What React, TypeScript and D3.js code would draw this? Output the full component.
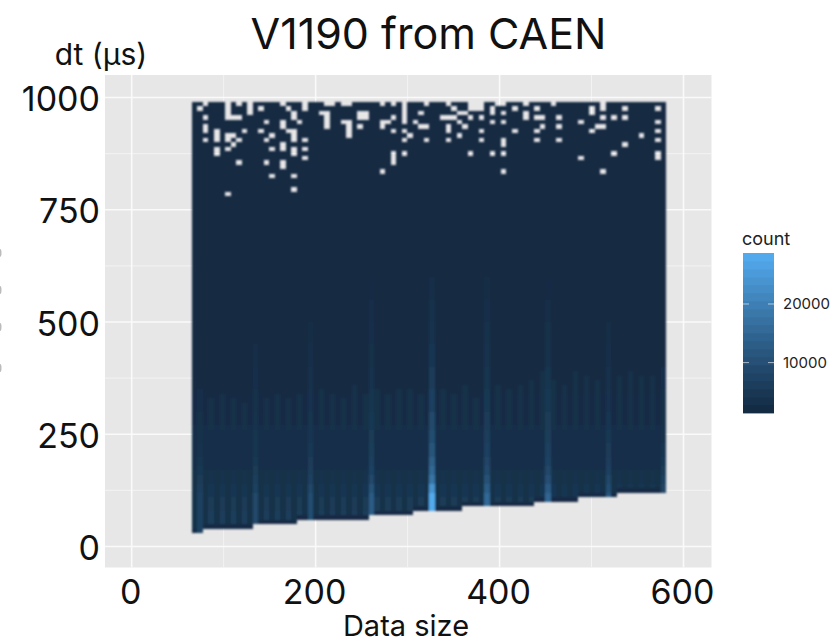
import React from 'react';
import * as d3 from 'd3';

const xTicks = [0, 200, 400, 600];
const xMinorTicks = [100, 300, 500];
const yTicks = [0, 250, 500, 750, 1000];
const yMinorTicks = [125, 375, 625, 875];
const legendTicks = [10000, 20000];

// heat map bins: data size bins are 6 wide, dt bins are 10 wide
const columnCount = 86;
const binStart = 65.5;
const binWidth = 6;
const rowHeight = 10;
const topRow = 980;

// lowest filled dt per run of columns
const floorRunStart = [0, 2, 11, 19, 32, 40, 49, 62, 70, 77];
const floorRunDt = [30, 40, 50, 60, 70, 80, 90, 100, 110, 120];

// bright columns, count by dt band
const spikeBandDt = [0, 120, 140, 160, 180, 200, 230, 260, 300, 350, 400, 450, 500, 550, 600];
const spikeColumns: Record<number, number[]> = {
  1: [6500, 5500, 4800, 4200, 3600, 3100, 2700, 2500, 2300, 1400, 1400, 1400, 1400, 1400, 1400],
  11: [8000, 6500, 5500, 4800, 4200, 3800, 3500, 3300, 2900, 2400, 2000, 1400, 1400, 1400, 1400],
  21: [9000, 7500, 6300, 5400, 4800, 4300, 3900, 3600, 3200, 2700, 2200, 1800, 1400, 1400, 1400],
  32: [12000, 10000, 8000, 6800, 6000, 5300, 4800, 4300, 3700, 3100, 2600, 2300, 1900, 1500, 1400],
  43: [27500, 23000, 17000, 14500, 12500, 10500, 9000, 8000, 6500, 5000, 4000, 3300, 2700, 2100, 1400],
  53: [14500, 12000, 9800, 8300, 7200, 6300, 5500, 4900, 4200, 3500, 3100, 2700, 2300, 1800, 1400],
  64: [14000, 11500, 9300, 7800, 6800, 5900, 5300, 4800, 4100, 3400, 2900, 2500, 2100, 1600, 1400],
  75: [11000, 9000, 7500, 6400, 5500, 4800, 4200, 3800, 3300, 2800, 2300, 1900, 1400, 1400, 1400],
  85: [8500, 7000, 6000, 5000, 4200, 3500, 2900, 2600, 2500, 2400, 1400, 1400, 1400, 1400, 1400],
};

// odd columns are stripes, listed from column 1 up; where their faint upper part ends
const stripeTopDt = [
  350, 330, 340, 330, 320, 330, 330, 340, 330, 340, 350, 350, 340, 330, 360, 340, 350, 340, 350, 350, 340, 350,
  350, 340, 360, 330, 360, 360, 350, 360, 370, 390, 370, 360, 390, 380, 370, 390, 380, 390, 380, 380, 380,
];
const stripeLowDt = [0, 80, 110, 140, 170];
const stripeLowCounts = [5500, 4800, 4000, 3300, 2700];
const stripeMidCount = 2500;

const gapBandDt = [0, 170, 270, 340];
const gapBandCounts = [2450, 2300, 1700, 1400];
const floorRowCount = 1500;

// empty bins as [column, rows down from the top row]
const emptyBins: [number, number[]][] = [
  [1, [1]], [2, [0, 3, 5, 6, 8]], [4, [6, 7, 8, 10, 11]], [6, [0, 1, 2, 3, 7, 8, 10, 20]], [7, [3, 7, 9]],
  [8, [0, 3, 8, 13]], [9, [6]], [10, [0, 1, 2]], [12, [1, 6]], [13, [4, 8, 13]], [14, [7, 10, 16]],
  [16, [0, 4, 5, 9, 10, 13, 14]], [17, [1, 6]], [18, [2, 3, 6, 7, 8, 10, 11, 16, 19]], [19, [4]],
  [20, [0, 1, 8, 10, 12]], [23, [2]], [24, [0, 2, 3, 4, 5]], [25, [0]], [27, [0, 4]], [28, [0, 4, 5, 6, 7]],
  [30, [2, 3, 5]], [31, [2, 3]], [34, [0, 4, 5, 15]], [35, [4]], [36, [0, 3, 6, 11, 12, 13]],
  [38, [0, 1, 2, 3, 4, 6, 8, 11]], [39, [7]], [40, [4]], [41, [2, 5]], [42, [0, 5, 8]],
  [45, [3]], [46, [0, 3, 5, 6, 8]], [47, [1, 3]], [48, [2, 4, 7]], [49, [2, 5]], [50, [0, 1, 3, 11]],
  [51, [0, 1]], [52, [0, 1, 3, 6, 8]], [54, [1, 2, 4, 11]], [55, [0]], [56, [0, 2, 4, 8, 9, 11, 15]],
  [58, [1, 6]], [60, [0, 2, 3]], [62, [1, 3, 6, 8]], [63, [3, 5]], [65, [0]], [66, [3, 5, 8]],
  [70, [4, 12]], [72, [1, 2, 6]], [73, [5]], [74, [0, 1, 3, 5, 15]], [76, [3, 11]], [78, [1, 3, 9]],
  [81, [7]], [84, [1, 4, 6, 8, 11, 12]],
];

const bandValue = (bands: number[], values: number[], dt: number) =>
  values[d3.bisectRight(bands, dt) - 1];

const countAt = (col: number, dt: number, floor: number) => {
  const spike = spikeColumns[col];
  if (spike) return bandValue(spikeBandDt, spike, dt);
  if (dt === floor) return floorRowCount;
  if (col % 2 === 1) {
    const top = stripeTopDt[(col - 1) / 2];
    if (dt >= top) return gapBandCounts[3];
    if (dt >= 170) return dt >= 260 ? stripeMidCount : gapBandCounts[1];
    return bandValue(stripeLowDt, stripeLowCounts, dt);
  }
  return bandValue(gapBandDt, gapBandCounts, dt);
};

const font = 'Inter, "Liberation Sans", Arial, sans-serif';

export default function App() {
  const x = d3.scaleLinear().domain([0, 600]).range([131.7, 683.5]);
  const y = d3.scaleLinear().domain([0, 1000]).range([546.5, 97.5]);
  const color = d3
    .scaleLinear<string>()
    .domain([1400, 28700])
    .range(['#132B43', '#56B1F7'])
    .interpolate(d3.interpolateLab);
  const legendY = d3.scaleLinear().domain([1400, 28700]).range([413, 253]);

  const empty = new Set<string>();
  emptyBins.forEach(([col, rows]) => rows.forEach((r) => empty.add(`${col}-${topRow - r * rowHeight}`)));

  const cells: { col: number; dt: number; count: number }[] = [];
  d3.range(columnCount).forEach((col) => {
    const floor = floorRunDt[d3.bisectRight(floorRunStart, col) - 1];
    for (let dt = floor; dt <= topRow; dt += rowHeight) {
      if (!empty.has(`${col}-${dt}`)) cells.push({ col, dt, count: countAt(col, dt, floor) });
    }
  });

  const legendBins = d3.range(1400, 28700, 1365);

  return (
    <svg width={836} height={643} style={{ position: 'absolute', left: 0, top: 0 }} fontFamily={font}>
      <defs>
        <filter id="soft" x="-2%" y="-2%" width="104%" height="104%">
          <feGaussianBlur stdDeviation="0.8" />
        </filter>
      </defs>
      <rect width={836} height={643} fill="#fff" />
      {/* cropped remains of a y label at the left edge */}
      {[253, 290, 327, 368].map((cy) => (
        <ellipse key={cy} cx={0} cy={cy} rx={1.5} ry={4} fill="#bbb" />
      ))}

      <rect x={105} y={75} width={606.5} height={492.5} fill="#E7E7E7" />
      {xMinorTicks.map((t) => (
        <line key={t} x1={x(t)} x2={x(t)} y1={75} y2={567.5} stroke="#f3f3f3" strokeWidth={1} />
      ))}
      {yMinorTicks.map((t) => (
        <line key={t} x1={105} x2={711.5} y1={y(t)} y2={y(t)} stroke="#f3f3f3" strokeWidth={1} />
      ))}
      {xTicks.map((t) => (
        <line key={t} x1={x(t)} x2={x(t)} y1={75} y2={567.5} stroke="#fafafa" strokeWidth={1.6} />
      ))}
      {yTicks.map((t) => (
        <line key={t} x1={105} x2={711.5} y1={y(t)} y2={y(t)} stroke="#fafafa" strokeWidth={1.6} />
      ))}

      <g filter="url(#soft)" shapeRendering="crispEdges">
        {cells.map((c) => {
          const left = x(binStart + c.col * binWidth);
          const right = x(binStart + (c.col + 1) * binWidth);
          const top = y(c.dt + rowHeight);
          return (
            <rect
              key={`${c.col}-${c.dt}`}
              x={left}
              y={top}
              width={right - left}
              height={y(c.dt) - top}
              fill={color(c.count)}
            />
          );
        })}
      </g>

      {xTicks.map((t) => (
        <text key={t} x={x(t) - 1} y={604} fontSize={34} textAnchor="middle" fill="#111">
          {t}
        </text>
      ))}
      {yTicks.map((t) => (
        <text key={t} x={100} y={y(t) + 13.5} fontSize={34} textAnchor="end" fill="#111">
          {t}
        </text>
      ))}

      <text x={428.5} y={49} fontSize={43} textAnchor="middle" fill="#111">
        V1190 from CAEN
      </text>
      <text x={101} y={65} fontSize={30} textAnchor="middle" fill="#111">
        dt (µs)
      </text>
      <text x={406} y={636} fontSize={29} textAnchor="middle" fill="#111">
        Data size
      </text>

      <text x={742} y={245} fontSize={18} fill="#222">
        count
      </text>
      {legendBins.map((v) => (
        <rect
          key={v}
          x={743}
          y={legendY(v + 1365)}
          width={31}
          height={legendY(v) - legendY(v + 1365) + 0.4}
          fill={color(v)}
        />
      ))}
      {legendTicks.map((t) => (
        <g key={t}>
          <line x1={743} x2={749} y1={legendY(t)} y2={legendY(t)} stroke="#fff" opacity={0.6} />
          <line x1={768} x2={774} y1={legendY(t)} y2={legendY(t)} stroke="#fff" opacity={0.6} />
          <text x={783} y={legendY(t) + 5} fontSize={15} fill="#222">
            {t}
          </text>
        </g>
      ))}
    </svg>
  );
}
